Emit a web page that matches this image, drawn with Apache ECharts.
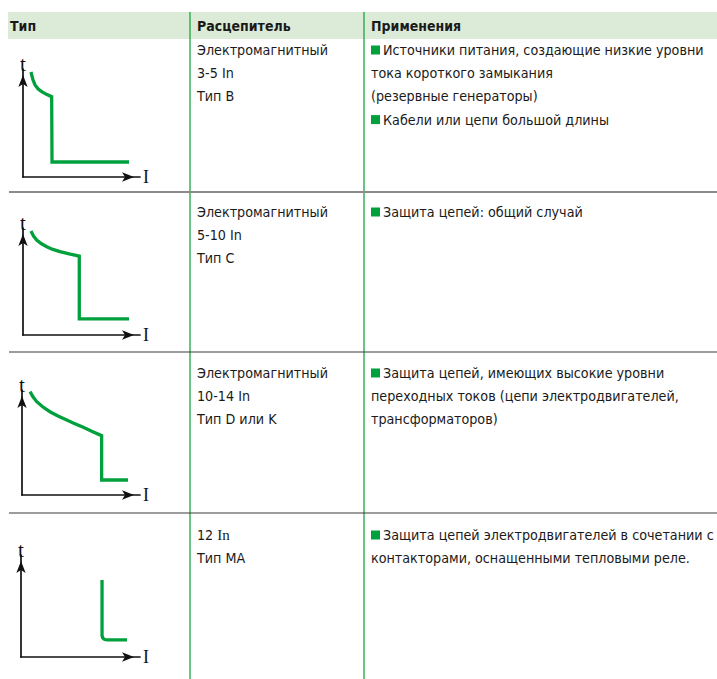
<!DOCTYPE html>
<html><head><meta charset="utf-8">
<script src="https://cdn.jsdelivr.net/npm/echarts@6/dist/echarts.min.js"></script>
<style>html,body{margin:0;padding:0;background:#fff}#c{width:717px;height:679px}</style>
</head><body><div id="c"></div>
<script>
// header
const headers = ['Тип', 'Расцепитель', 'Применения'];
// trip curves (x: current, y: time; relative units 0..100 of each mini-chart)
const curveB  = [[6.8,97.2],[8.5,90],[10.3,85.2],[13,81.5],[16,79],[20,76.5],[24.5,74.4],[24.8,13.9],[90.6,13.9]];
const curveC  = [[6.8,97.2],[9,92.5],[11.7,88.8],[15.5,85.5],[20.3,82.5],[25.5,80],[31.6,77.9],[39.5,75.8],[48.1,73.8],[48.1,15],[90.6,15]];
const curveD  = [[6.8,98.4],[9.3,93.5],[12.5,88.9],[17.5,84],[23.7,79.3],[30.5,75.2],[37.9,71.4],[44.8,67.9],[51.9,64.5],[59.5,60.5],[67.5,56.5],[67.5,14.3],[89.8,14.3]];
const curveMA = [[68.1,75.5],[68.1,21],[68.7,18.6],[70.3,17.1],[72.6,16.7],[89.1,16.7]];
// texts
const relayTexts = [
  ['Электромагнитный', '3-5 In', 'Тип B'],
  ['Электромагнитный', '5-10 In', 'Тип C'],
  ['Электромагнитный', '10-14 In', 'Тип D или K'],
  ['12 In', 'Тип MA']
];
const appTexts = [
  [[true,'Источники питания, создающие низкие уровни'],[false,'тока короткого замыкания'],[false,'(резервные генераторы)'],[true,'Кабели или цепи большой длины']],
  [[true,'Защита цепей: общий случай']],
  [[true,'Защита цепей, имеющих высокие уровни'],[false,'переходных токов (цепи электродвигателей,'],[false,'трансформаторов)']],
  [[true,'Защита цепей электродвигателей в сочетании с'],[false,'контакторами, оснащенными тепловыми реле.']]
];
const curves = [curveB, curveC, curveD, curveMA];

const GREEN = '#00a03c';
const FONT = '"Liberation Sans Narrow","DejaVu Sans Condensed","Arial Narrow",sans-serif';
const SERIF = '"Liberation Serif","DejaVu Serif",serif';
const textRowY = [50, 212, 373, 535];
const grids = [
  {left:23, top:69, width:117, height:108},
  {left:23, top:228, width:117, height:107},
  {left:22, top:390, width:118, height:105},
  {left:21, top:555, width:119, height:102}
];

const graphic = [];
// header band
graphic.push({type:'rect', shape:{x:8,y:12,width:709,height:27}, style:{fill:'#dcebd7'}, z:-1});
const hx = [10, 197, 371];
headers.forEach((h,i)=>graphic.push({type:'text', style:{text:h, x:hx[i], y:26, font:'bold 14px '+FONT, fill:'#1a1a1a', verticalAlign:'middle'}}));
// vertical green dividers
[190, 364].forEach(x=>graphic.push({type:'line', shape:{x1:x,y1:12,x2:x,y2:679}, style:{stroke:'#1aa83f', lineWidth:1.3}}));
// horizontal separators
graphic.push({type:'line', shape:{x1:9,y1:192,x2:717,y2:192}, style:{stroke:'#8a8a8a', lineWidth:2}});
[352, 513].forEach(y=>graphic.push({type:'line', shape:{x1:9,y1:y,x2:717,y2:y}, style:{stroke:'#3a3a3a', lineWidth:1.2}}));
// text cells
const LH = 23.2;
const FS = '14.2px ';
relayTexts.forEach((lines,r)=>{
  lines.forEach((t,k)=>{
    const y = textRowY[r] + k*LH;
    if (t === '12 In') {
      graphic.push({type:'text', style:{text:'{a|12 }{b|In}', x:197, y:y, verticalAlign:'middle',
        rich:{a:{font:FS+FONT, fill:'#1a1a1a'}, b:{font:'15px '+SERIF, fill:'#1a1a1a'}}}});
    } else {
      graphic.push({type:'text', style:{text:t, x:197, y:y, font:FS+FONT, fill:'#1a1a1a', verticalAlign:'middle'}});
    }
  });
});
appTexts.forEach((lines,r)=>{
  lines.forEach((ln,k)=>{
    const y = textRowY[r] + k*LH;
    if (ln[0]) {
      graphic.push({type:'rect', shape:{x:371,y:y-4.5,width:9,height:9}, style:{fill:GREEN}});
      graphic.push({type:'text', style:{text:ln[1], x:383, y:y, font:FS+FONT, fill:'#1a1a1a', verticalAlign:'middle'}});
    } else {
      graphic.push({type:'text', style:{text:ln[1], x:371, y:y, font:FS+FONT, fill:'#1a1a1a', verticalAlign:'middle'}});
    }
  });
});

const axisCommon = {
  type:'value', min:0, max:100,
  axisTick:{show:false}, axisLabel:{show:false}, splitLine:{show:false},
  axisLine:{show:true, symbol:['none','arrow'], symbolSize:[7,12], symbolOffset:[0,-6], lineStyle:{color:'#111', width:1.7}},
  nameTextStyle:{fontFamily:SERIF, color:'#111'}
};
const xAxis = grids.map((g,i)=>Object.assign({}, axisCommon, {gridIndex:i, name:'I', nameGap:3,
  nameTextStyle:{fontFamily:SERIF, color:'#111', fontSize:18}}));
const yAxis = grids.map((g,i)=>Object.assign({}, axisCommon, {gridIndex:i, name:'t', nameGap:-5,
  nameTextStyle:{fontFamily:SERIF, color:'#111', fontSize:21}}));
const series = curves.map((c,i)=>({type:'line', xAxisIndex:i, yAxisIndex:i, data:c, symbol:'none', smooth:false,
  lineStyle:{color:GREEN, width:3.3, cap:'butt', join:'miter'}, silent:true, animation:false}));

const chart = echarts.init(document.getElementById('c'), null, {renderer:'svg', width:717, height:679});
chart.setOption({
  animation:false,
  backgroundColor:'#ffffff',
  grid: grids.map(g=>Object.assign({containLabel:false}, g)),
  xAxis, yAxis, series, graphic
});
</script></body></html>
